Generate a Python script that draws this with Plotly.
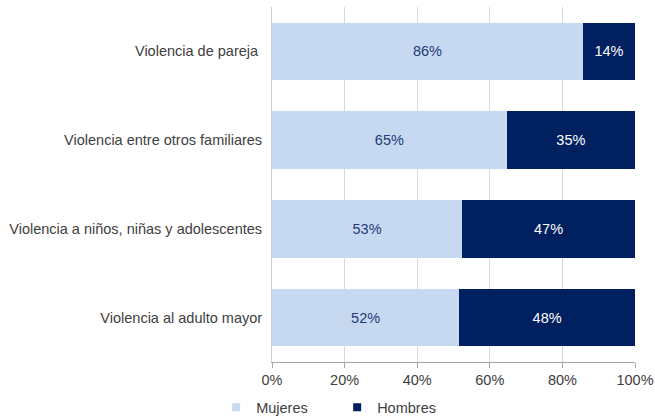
import plotly.graph_objects as go

categories = ["Violencia de pareja ", "Violencia entre otros familiares",
              "Violencia a niños, niñas y adolescentes", "Violencia al adulto mayor"]
mujeres = [85.7, 64.7, 52.4, 51.6]
hombres = [14.3, 35.3, 47.6, 48.4]
mujeres_lbl = ["86%", "65%", "53%", "52%"]
hombres_lbl = ["14%", "35%", "47%", "48%"]
tick_vals = [0, 20, 40, 60, 80, 100]
tick_text = ["0%", "20%", "40%", "60%", "80%", "100%"]

font = "Liberation Sans, Arial, sans-serif"
fs = 14.5
c_muj = "#C6D9F1"
c_hom = "#002060"

fig = go.Figure()
fig.add_trace(go.Bar(
    y=categories, x=mujeres, name="Mujeres", orientation="h",
    marker=dict(color=c_muj, line=dict(width=0)),
    text=mujeres_lbl, textposition="inside", insidetextanchor="middle",
    textfont=dict(color="#1F3A7A", size=fs, family=font),
    hoverinfo="skip", showlegend=False))
fig.add_trace(go.Bar(
    y=categories, x=hombres, name="Hombres", orientation="h",
    marker=dict(color=c_hom, line=dict(width=0)),
    text=hombres_lbl, textposition="inside", insidetextanchor="middle",
    textfont=dict(color="#FFFFFF", size=fs, family=font),
    hoverinfo="skip", showlegend=False))
# legend entries with small square swatches
for name, col in [("Mujeres", c_muj), ("Hombres", c_hom)]:
    fig.add_trace(go.Scatter(
        x=[None], y=[None], mode="markers", name=name,
        marker=dict(symbol="square", size=8, color=col),
        showlegend=True, hoverinfo="skip"))

fig.update_layout(
    barmode="stack", bargap=0.35,
    width=655, height=420,
    margin=dict(l=272, r=20, t=7, b=58, autoexpand=False),
    paper_bgcolor="white", plot_bgcolor="white",
    font=dict(family=font, size=fs, color="#404040"),
    showlegend=True,
    legend=dict(orientation="h", xref="container", yref="container",
                x=0.33, xanchor="left", y=0.03, yanchor="middle",
                font=dict(size=fs, color="#404040"), traceorder="normal",
                itemwidth=30, entrywidth=76, tracegroupgap=0),
    uniformtext=dict(mode=False),
)
fig.update_xaxes(range=[0, 100], tickvals=tick_vals, ticktext=tick_text,
                 showgrid=True, gridcolor="#D9D9D9", gridwidth=1,
                 showline=True, linecolor="#A6A6A6", linewidth=1,
                 ticks="outside", ticklen=5, tickcolor="#A6A6A6",
                 tickfont=dict(size=fs, color="#404040"), zeroline=False,
                 fixedrange=True, automargin=False)
fig.update_yaxes(categoryorder="array", categoryarray=categories,
                 autorange="reversed", showgrid=False, showline=True,
                 linecolor="#D0D0D0", linewidth=1, ticks="", ticklen=0,
                 ticklabelstandoff=6,
                 tickfont=dict(size=fs, color="#404040"), fixedrange=True,
                 automargin=False)

fig.write_html("out.html", config={"displayModeBar": False},
               post_script="document.body.style.margin='0';document.body.style.overflow='hidden';")
